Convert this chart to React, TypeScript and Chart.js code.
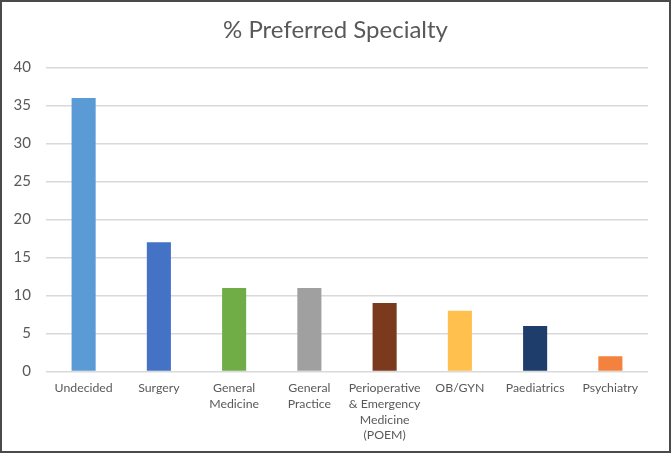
import React, { useEffect, useRef } from "react";
import { Chart, registerables } from "chart.js";

Chart.register(...registerables);

const categories: (string | string[])[] = [
  "Undecided",
  "Surgery",
  ["General", "Medicine"],
  ["General", "Practice"],
  ["Perioperative", "& Emergency", "Medicine", "(POEM)"],
  "OB/GYN",
  "Paediatrics",
  "Psychiatry",
];
const values = [36, 17, 11, 11, 9, 8, 6, 2];
const barColors = [
  "#5B9BD5",
  "#4472C4",
  "#70AD47",
  "#A0A0A0",
  "#7B3A1E",
  "#FFC04D",
  "#1F3D6B",
  "#F4823F",
];
const yTicks = [0, 5, 10, 15, 20, 25, 30, 35, 40];
const titleText = "% Preferred Specialty";

export default function App() {
  const ref = useRef<HTMLCanvasElement | null>(null);
  useEffect(() => {
    if (!ref.current) return;
    const font = "Lato, 'Open Sans', sans-serif";
    const chart = new Chart(ref.current, {
      type: "bar",
      data: {
        labels: categories,
        datasets: [
          {
            data: values,
            backgroundColor: barColors,
            barPercentage: 0.32,
            categoryPercentage: 1,
          },
        ],
      },
      options: {
        animation: false,
        responsive: false,
        maintainAspectRatio: false,
        layout: { padding: 0 },
        plugins: {
          legend: { display: false },
          tooltip: { enabled: false },
          title: {
            display: true,
            text: titleText,
            color: "#595959",
            font: { family: font, size: 24, weight: "normal" },
            padding: { top: 14, bottom: 22.7 },
          },
        },
        scales: {
          x: {
            grid: { display: false, drawTicks: false },
            border: { display: false },
            ticks: {
              color: "#595959",
              font: { family: font, size: 12.3, lineHeight: 1.27 },
              padding: 9,
              maxRotation: 0,
              autoSkip: false,
            },
            afterFit: (s: any) => {
              s.height = 79.5;
            },
          },
          y: {
            min: 0,
            max: 40,
            afterBuildTicks: (s: any) => {
              s.ticks = yTicks.map((v) => ({ value: v }));
            },
            grid: { color: "#D9D9D9", lineWidth: 1.5, drawTicks: false },
            border: { display: false },
            ticks: {
              color: "#595959",
              font: { family: font, size: 15 },
              padding: 15,
            },
            afterFit: (s: any) => {
              s.width = 44;
            },
          },
          yRight: {
            position: "right",
            min: 0,
            max: 40,
            grid: { display: false, drawTicks: false },
            border: { display: false },
            ticks: { display: false },
            afterFit: (s: any) => {
              s.width = 21;
            },
          },
        },
      },
    });
    return () => chart.destroy();
  }, []);
  return (
    <div
      style={{
        position: "fixed",
        left: 0,
        top: 0,
        width: 671,
        height: 453,
        border: "2px solid #4a4a4a",
        boxSizing: "border-box",
        background: "#fff",
      }}
    >
      <canvas ref={ref} width={667} height={449} style={{ display: "block" }} />
    </div>
  );
}
